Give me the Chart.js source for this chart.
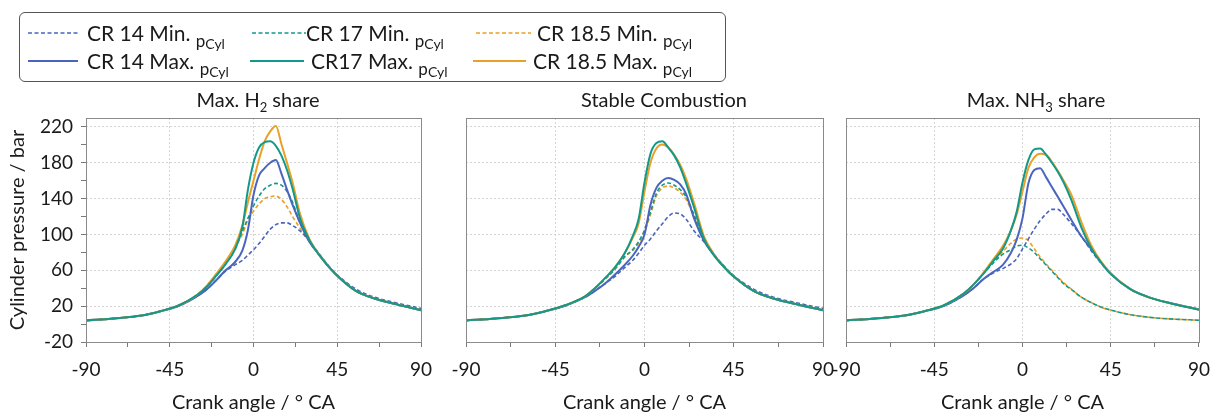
<!DOCTYPE html>
<html>
<head>
<meta charset="utf-8">
<script src="https://cdn.jsdelivr.net/npm/chart.js@4/dist/chart.umd.min.js"></script>
<style>
  body { margin: 0; background: #fff; }
  #wrap { position: relative; width: 1221px; height: 416px; font-family: Lato, "Noto Sans", sans-serif; color: #1a1a1a; }
  canvas { position: absolute; left: 0; top: 0; }
  .legend { position: absolute; left: 19px; top: 12px; width: 707px; height: 70px; border: 1px solid #555; border-radius: 6px; box-sizing: border-box; }
  .item { position: absolute; font-size: 21px; line-height: 24px; white-space: nowrap; }
  .item svg { position: absolute; }
  .p { font-size: 17px; position: relative; top: 6px; }
  .c { font-size: 14px; position: relative; top: 2px; }
  .ttl { position: absolute; width: 300px; text-align: center; font-size: 20px; line-height: 24px; top: 87px; }
  .ttl sub { font-size: 13px; line-height: 0; }
</style>
</head>
<body>
<div id="wrap">
  <canvas id="c1" width="1221" height="416"></canvas>
  <canvas id="c2" width="1221" height="416"></canvas>
  <canvas id="c3" width="1221" height="416"></canvas>
  <div class="legend" id="legend"></div>
  <div class="ttl" style="left:108px">Max. H<sub>2</sub> share</div>
  <div class="ttl" style="left:514px">Stable Combustion</div>
  <div class="ttl" style="left:886px">Max. NH<sub>3</sub> share</div>
</div>
<script>
const angles = [-90, -75, -60, -50, -40, -30, -25, -20, -15, -10, -6, -3, 0, 3, 6, 9, 12, 15, 18, 21, 25, 30, 35, 40, 45, 55, 65, 75, 90];

// Max. H2 share
const h2Cr14Min = [4, 6.3, 9.6, 14.4, 20.5, 31.5, 39, 49, 59, 66, 71, 77, 83, 90, 98, 106, 111, 113, 113, 110, 104, 93, 79, 66, 55, 39, 30, 24.5, 17.5];
const h2Cr17Min = [4, 6.3, 9.6, 14.4, 21, 33, 42, 54, 67, 84, 104, 118, 132, 143, 151, 155, 157, 155, 148, 136, 113, 93, 78, 65, 54, 37, 28.5, 23, 15.5];
const h2Cr185Min = [4, 6.3, 9.6, 14.4, 21, 33, 43, 55, 69, 86, 100, 116, 126, 134, 140, 142, 143, 139, 131, 120, 107, 92, 78, 65, 54, 37, 28.5, 23, 15.5];
const h2Cr14Max = [4, 6.3, 9.6, 14.4, 20.5, 31.5, 39, 49, 60, 69, 82, 105, 144, 166, 174, 180, 183, 168, 150, 133, 113, 92, 78, 65, 54, 37, 28.5, 23, 15.5];
const h2Cr17Max = [4, 6.3, 9.6, 14.4, 21, 33, 42, 54, 67, 83, 108, 150, 180, 197, 203, 204, 199, 188, 172, 151, 118, 94, 78, 65, 54, 37, 28.5, 23, 15.5];
const h2Cr185Max = [4, 6.3, 9.6, 14.4, 21, 33, 43, 56, 70, 87, 110, 136, 160, 184, 204, 215, 221, 201, 180, 158, 123, 95, 78, 65, 54, 37, 28.5, 23, 15.5];

// Stable Combustion
const scCr14Min = [4, 6.3, 9.6, 14.4, 20.5, 30, 37, 45, 53, 63, 71, 79, 88, 95, 104, 112, 120, 124, 123, 117, 104, 92, 78, 65, 54, 39, 30, 24.5, 17.5];
const scCr17Min = [4, 6.3, 9.6, 14.4, 21, 31, 40, 50, 61, 75, 83, 92, 105, 125, 146, 155, 157.5, 155, 150, 142, 122, 95, 77, 64, 53, 37, 28.5, 23, 15.5];
const scCr185Min = [4, 6.3, 9.6, 14.4, 21, 31, 40, 50, 61, 75, 82, 90, 103, 122, 143, 152, 154, 152, 147, 139, 120, 94, 77, 64, 53, 37, 28.5, 23, 15.5];
const scCr14Max = [4, 6.3, 9.6, 14.4, 20.5, 30, 37, 45, 55, 66, 76, 86, 100, 133, 152, 160, 163, 161, 156, 145, 118, 93, 77, 64, 53, 37, 28.5, 23, 15.5];
const scCr17Max = [4, 6.3, 9.6, 14.4, 21, 31, 40, 51, 63, 79, 98, 117, 158, 190, 202, 204, 197, 188, 175, 157, 130, 95, 77, 64, 53, 37, 28.5, 23, 15.5];
const scCr185Max = [4, 6.3, 9.6, 14.4, 21, 31, 40, 51, 63, 79, 96, 112, 148, 180, 196, 200.5, 197, 189, 178, 162, 135, 98, 78, 64, 53, 37, 28.5, 23, 15.5];

// Max. NH3 share
const nhCr14Min = [4, 6.3, 9.6, 14.4, 20.5, 32, 40, 50, 57, 62, 67, 73, 84, 95, 106, 115.5, 123, 128, 128, 122, 112, 98, 82, 68, 56, 39, 29.5, 23.5, 16.5];
const nhCr17Min = [4, 6.3, 9.6, 14.4, 21, 34, 44, 56, 68, 78, 83, 87, 88, 85, 80, 73, 66, 59, 52, 45, 38.5, 30, 24, 19, 15.6, 10.5, 7.5, 5.8, 4.3];
const nhCr185Min = [4, 6.3, 9.6, 14.4, 21, 34, 44, 57, 70, 81, 90, 95, 96, 93, 84, 75, 67, 60, 53, 46, 39, 30, 24, 19, 15.6, 10.5, 7.5, 5.8, 4.3];
const nhCr14Max = [4, 6.3, 9.6, 14.4, 20.5, 32, 40, 50, 58, 66, 79, 94, 118, 157, 172, 174, 164, 153, 142, 131, 116, 98, 84, 69, 56, 39, 29.5, 23.5, 16.5];
const nhCr17Max = [4, 6.3, 9.6, 14.4, 21, 34, 44, 56, 70, 84, 104, 125, 158, 183, 195, 196, 189, 180, 170, 158, 138, 108, 85, 69, 56, 39, 29.5, 23.5, 16];
const nhCr185Max = [4, 6.3, 9.6, 14.4, 21, 34, 44, 57, 72, 87, 104, 122, 148, 174, 186, 190, 189, 181, 171, 160, 144, 114, 88, 70, 57, 39, 29.5, 23.5, 16];

const seriesNames = ["CR 14 Min.", "CR 17 Min.", "CR 18.5 Min.", "CR 14 Max.", "CR17 Max.", "CR 18.5 Max."];
const xTicks = [-90, -45, 0, 45, 90];
const yTicks = [-20, 20, 60, 100, 140, 180, 220];

const BLUE = "#4a65bd";
const GREEN = "#13998a";
const ORANGE = "#e9a027";
const colors = [BLUE, GREEN, ORANGE, BLUE, GREEN, ORANGE];
const dashed = [true, true, true, false, false, false];
const drawOrder = [4, 3, 5, 2, 0, 1];
const FONT = "Lato, 'Noto Sans', sans-serif";

const frame = {
  id: "frame",
  afterDatasetsDraw(chart) {
    const a = chart.chartArea;
    const ctx = chart.ctx;
    ctx.save();
    ctx.strokeStyle = "#8a8a8a";
    ctx.lineWidth = 1;
    ctx.strokeRect(Math.round(a.left) + 0.5, Math.round(a.top) + 0.5,
      Math.round(a.right - a.left), Math.round(a.bottom - a.top));
    ctx.restore();
  },
};

function makeChart(id, series, left, right, first) {
  const datasets = series.map((vals, i) => ({
    label: seriesNames[i],
    data: angles.map((a, j) => ({ x: a, y: vals[j] })),
    borderColor: colors[i],
    borderWidth: dashed[i] ? 1.6 : 2,
    borderDash: dashed[i] ? [4, 2.5] : [],
    pointRadius: 0,
    cubicInterpolationMode: "monotone",
    order: drawOrder[i],
  }));
  new Chart(document.getElementById(id), {
    type: "line",
    data: { datasets },
    plugins: [frame],
    options: {
      responsive: false,
      animation: false,
      events: [],
      layout: { padding: { left: left, right: right, top: 118, bottom: 0 } },
      plugins: { legend: { display: false }, tooltip: { enabled: false } },
      scales: {
        x: {
          type: "linear",
          min: -90,
          max: 90,
          afterFit: (s) => { s.height = 74; },
          afterBuildTicks: (s) => {
            s.ticks = [-90, -67.5, -45, -22.5, 0, 22.5, 45, 67.5, 90].map((v) => ({ value: v }));
          },
          ticks: {
            autoSkip: false,
            maxRotation: 0,
            padding: 11,
            color: "#1a1a1a",
            font: { family: FONT, size: 19 },
            callback: (v) => (xTicks.includes(v) ? String(v) : ""),
          },
          grid: {
            color: (c) => (c.tick && [-45, 0, 45].includes(c.tick.value) ? "#d4d4d4" : "rgba(0,0,0,0)"),
            tickColor: "#7a7a7a",
            tickLength: 5,
          },
          border: { display: false, dash: [2, 2] },
          title: {
            display: true,
            text: "Crank angle / ° CA",
            color: "#1a1a1a",
            font: { family: FONT, size: 20 },
            padding: { top: 0, bottom: 1 },
          },
        },
        y: {
          type: "linear",
          min: -20,
          max: 230,
          afterFit: (s) => { s.width = first ? 86 : 0; },
          afterBuildTicks: (s) => {
            const t = [];
            for (let v = -20; v <= 220; v += 20) t.push({ value: v });
            s.ticks = t;
          },
          ticks: {
            display: first,
            autoSkip: false,
            padding: 8,
            color: "#1a1a1a",
            font: { family: FONT, size: 19 },
            callback: (v) => (yTicks.includes(v) ? String(v) : ""),
          },
          grid: {
            drawTicks: first,
            color: (c) => (c.tick && c.tick.value > -20 && (c.tick.value + 20) % 40 === 0 ? "#d4d4d4" : "rgba(0,0,0,0)"),
            tickColor: "#7a7a7a",
            tickLength: 5,
          },
          border: { display: false, dash: [2, 2] },
          title: {
            display: first,
            text: "Cylinder pressure / bar",
            color: "#1a1a1a",
            font: { family: FONT, size: 20 },
            padding: { top: 6, bottom: 0 },
          },
        },
      },
    },
  });
}

makeChart("c1", [h2Cr14Min, h2Cr17Min, h2Cr185Min, h2Cr14Max, h2Cr17Max, h2Cr185Max], 0, 800, true);
makeChart("c2", [scCr14Min, scCr17Min, scCr185Min, scCr14Max, scCr17Max, scCr185Max], 466, 398, false);
makeChart("c3", [nhCr14Min, nhCr17Min, nhCr185Min, nhCr14Max, nhCr17Max, nhCr185Max], 846, 18, false);

// legend: line start, line end, text start, row centre (page pixels)
const legendPos = [
  [28, 78, 87, 33], [252, 306, 306, 33], [476, 531, 537, 33],
  [28, 78, 87, 61], [250, 304, 311, 61], [473, 526, 533, 61],
];
const legend = document.getElementById("legend");
seriesNames.forEach((name, i) => {
  const [x0, x1, tx, y] = legendPos[i];
  const el = document.createElement("div");
  el.className = "item";
  el.style.left = (x0 - 20) + "px";
  el.style.top = (y - 12 - 13) + "px";
  const w = x1 - x0;
  el.innerHTML =
    '<svg width="' + w + '" height="4" style="left:0;top:10px"><line x1="0" y1="2" x2="' + w + '" y2="2" stroke="' +
    colors[i] + '" stroke-width="' + (dashed[i] ? 1.6 : 2) + '"' + (dashed[i] ? ' stroke-dasharray="4 2.5"' : "") + "/></svg>" +
    '<span style="position:relative;left:' + (tx - x0) + 'px">' + name + ' <span class="p">p<span class="c">Cyl</span></span></span>';
  legend.appendChild(el);
});
</script>
</body>
</html>
